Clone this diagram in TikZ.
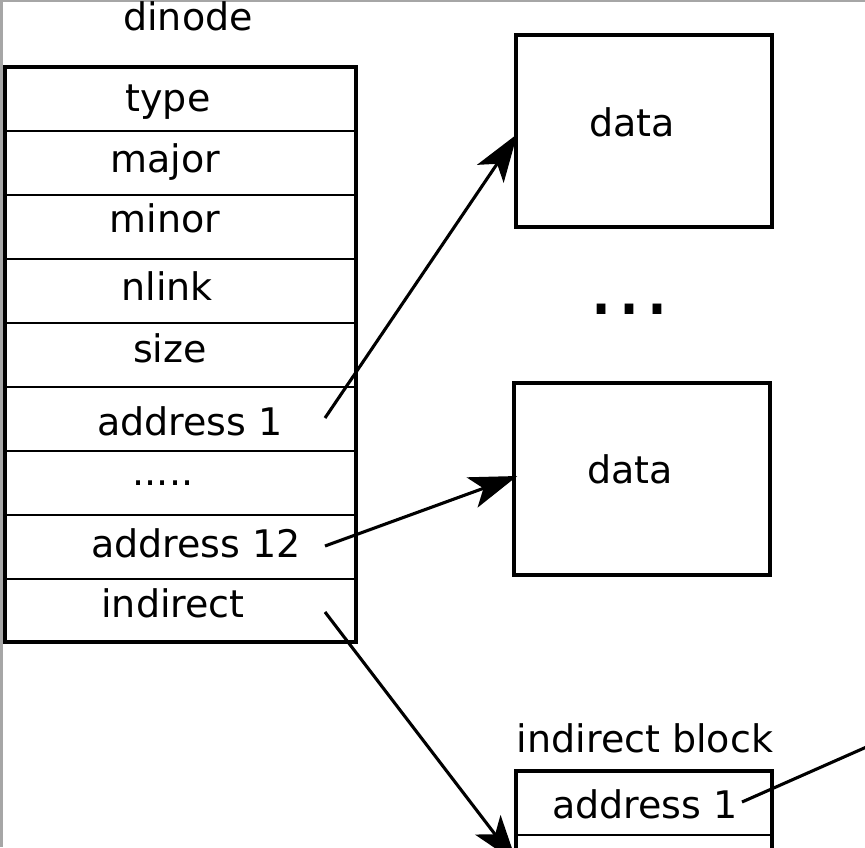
\documentclass[tikz,border=0pt]{standalone}
\usepackage{fontspec}
\setmainfont{DejaVu Sans}
\usetikzlibrary{arrows.meta}
\tikzset{
  lbl/.style={anchor=base, inner sep=0pt, font=\fontsize{38}{40}\selectfont},
  outer/.style={line width=3.4pt, line join=miter},
  inner/.style={line width=1.7pt},
  box/.style={draw, line width=3.4pt, minimum width=256pt, minimum height=192pt, inner sep=0pt},
  ptr/.style={line width=3.1pt, -{Stealth[length=48pt, width=32pt, inset=12pt]}},
  frame/.style={draw=gray!70, line width=3pt},
}
\begin{document}
\begin{tikzpicture}[x=1pt, y=-1pt]
\useasboundingbox (0,0) rectangle (865,847);
\clip (0,0) rectangle (865,847);
\fill[white] (0,0) rectangle (865,847);
\draw[frame] (0,0) -- (865,0);
\draw[frame] (1,0) -- (1,847);
% dinode table
\node[lbl] (title) at (188,30) {dinode};
\foreach \y in {131,195,259,323,387,451,515,579} \draw[inner] (5,\y) -- (356,\y);
\draw[outer] (5,67) rectangle (356,642);
\node[lbl] (type) at (168,111) {type};
\node[lbl] (major) at (165,172) {major};
\node[lbl] (minor) at (165,232) {minor};
\node[lbl] (nlink) at (167,300) {nlink};
\node[lbl] (size) at (170,362) {size};
\node[lbl] (addr1) at (190,435) {address 1};
\node[lbl] (dots) at (163,485) {.....};
\node[lbl] (addr12) at (196,557) {address 12};
\node[lbl] (indir) at (173,617) {indirect};
% data boxes
\node[box] (d1) at (644,131) {};
\node[lbl] (d1t) at (632,136) {data};
\node[lbl, font=\fontsize{84}{86}\selectfont] (ell) at (629,314) {…};
\node[box] (d2) at (642,479) {};
\node[lbl] (d2t) at (630,483) {data};
% indirect block
\node[lbl] (ibt) at (645,752) {indirect block};
\draw[outer] (516,870) -- (516,771) -- (772,771) -- (772,870);
\draw[inner] (516,835) -- (772,835);
\node[lbl] (ibaddr) at (645,818) {address 1};
% pointers
\coordinate (s1) at (325,418);
\coordinate (s2) at (325,546);
\coordinate (s3) at (325,612);
\coordinate (s4) at (742,802);
\coordinate (e3) at (517,863);
\coordinate (e4) at (905,730);
\draw[ptr] (s1) -- ([xshift=3pt,yshift=-3pt]d1.west);
\draw[ptr] (s2) -- ([xshift=5pt,yshift=3pt]d2.west);
\draw[ptr] (s3) -- (e3);
\draw[line width=3.1pt] (s4) -- (e4);
\end{tikzpicture}
\end{document}
